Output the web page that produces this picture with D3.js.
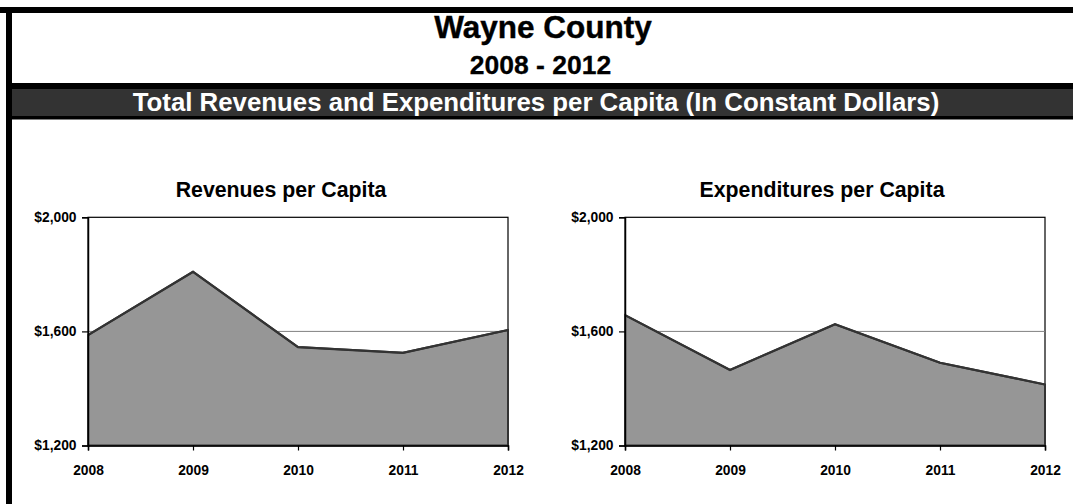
<!DOCTYPE html>
<html>
<head>
<meta charset="utf-8">
<script src="https://cdn.jsdelivr.net/npm/d3@7"></script>
<style>
  html, body { margin: 0; padding: 0; background: #fff; }
  svg { display: block; }
  text { font-family: "Liberation Sans", Arial, sans-serif; font-weight: bold; }
</style>
</head>
<body>
<script>
const years = ["2008", "2009", "2010", "2011", "2012"];
const revenues = [1587, 1809, 1545, 1525, 1605];
const expenditures = [1657, 1465, 1625, 1490, 1414];
const yTicks = [1200, 1600, 2000];
const gridValues = [1600];
const mainTitle = "Wayne County";
const subTitle = "2008 - 2012";
const bandTitle = "Total Revenues and Expenditures per Capita (In Constant Dollars)";
const chartTitles = ["Revenues per Capita", "Expenditures per Capita"];

const W = 1073, H = 504;
const svg = d3.select("body").append("svg").attr("width", W).attr("height", H);

// frame
svg.append("rect").attr("x", 0).attr("y", 7).attr("width", W).attr("height", 6).attr("fill", "#000");
svg.append("rect").attr("x", 6).attr("y", 7).attr("width", 6).attr("height", H - 7).attr("fill", "#000");
svg.append("rect").attr("x", 6).attr("y", 83).attr("width", W - 6).attr("height", 6).attr("fill", "#000");
svg.append("rect").attr("x", 12).attr("y", 89).attr("width", W - 12).attr("height", 27).attr("fill", "#333333");
svg.append("rect").attr("x", 6).attr("y", 116).attr("width", W - 6).attr("height", 3.5).attr("fill", "#000");

const cx = 543;
svg.append("text").attr("x", cx).attr("y", 38.3).attr("text-anchor", "middle")
  .attr("font-size", 31.5).attr("font-weight", "bold").attr("fill", "#000")
  .attr("stroke", "#000").attr("stroke-width", 0.4).text(mainTitle);
svg.append("text").attr("x", 540.5).attr("y", 74).attr("text-anchor", "middle")
  .attr("font-size", 26.5).attr("font-weight", "bold").attr("fill", "#000")
  .attr("stroke", "#000").attr("stroke-width", 0.3).text(subTitle);
svg.append("text").attr("x", 536).attr("y", 111).attr("text-anchor", "middle")
  .attr("font-size", 25.8).attr("font-weight", "bold").attr("fill", "#fff").text(bandTitle);

function drawChart(values, title, left, right, titleX) {
  const top = 217.3, bottom = 445.5;
  const x = d3.scalePoint().domain(years).range([left, right]).padding(0);
  const y = d3.scaleLinear().domain([1200, 2000]).range([bottom, top]);
  const g = svg.append("g");

  g.append("text").attr("x", titleX).attr("y", 196.7).attr("text-anchor", "middle")
    .attr("font-size", 21.3).attr("font-weight", "bold").attr("fill", "#000").text(title);

  // plot area border
  g.append("rect").attr("x", left).attr("y", top).attr("width", right - left).attr("height", bottom - top)
    .attr("fill", "#fff").attr("stroke", "#000").attr("stroke-width", 1.2);

  // gridlines
  g.selectAll(".grid").data(gridValues).join("line")
    .attr("x1", left).attr("x2", right)
    .attr("y1", d => y(d)).attr("y2", d => y(d))
    .attr("stroke", "#808080").attr("stroke-width", 1);

  const data = years.map((yr, i) => ({ yr, v: values[i] }));
  const area = d3.area().x(d => x(d.yr)).y0(y(1200)).y1(d => y(d.v));
  g.append("path").datum(data).attr("d", area)
    .attr("fill", "#969696").attr("stroke", "#333333").attr("stroke-width", 2)
    .attr("stroke-linejoin", "miter");
  const line = d3.line().x(d => x(d.yr)).y(d => y(d.v));
  g.append("path").datum(data).attr("d", line)
    .attr("fill", "none").attr("stroke", "#333333").attr("stroke-width", 2.2);

  const yAxis = g.append("g").attr("transform", `translate(${left},0)`)
    .call(d3.axisLeft(y).tickValues(yTicks).tickSize(6).tickPadding(5.5)
      .tickFormat(d => "$" + d3.format(",")(d)));
  const xAxis = g.append("g").attr("transform", `translate(0,${bottom})`)
    .call(d3.axisBottom(x).tickSize(5).tickPadding(15));
  [yAxis, xAxis].forEach(a => {
    a.select(".domain").attr("stroke", "#000").attr("stroke-width", 1.5);
    a.selectAll(".tick line").attr("stroke", "#000").attr("stroke-width", 1.2);
    a.selectAll("text").attr("font-size", 13.8).attr("fill", "#000")
      .attr("font-family", "'Liberation Sans', Arial, sans-serif").attr("font-weight", "bold");
  });
}

drawChart(revenues, chartTitles[0], 88, 508, 281);
drawChart(expenditures, chartTitles[1], 625, 1045, 822);
</script>
</body>
</html>
